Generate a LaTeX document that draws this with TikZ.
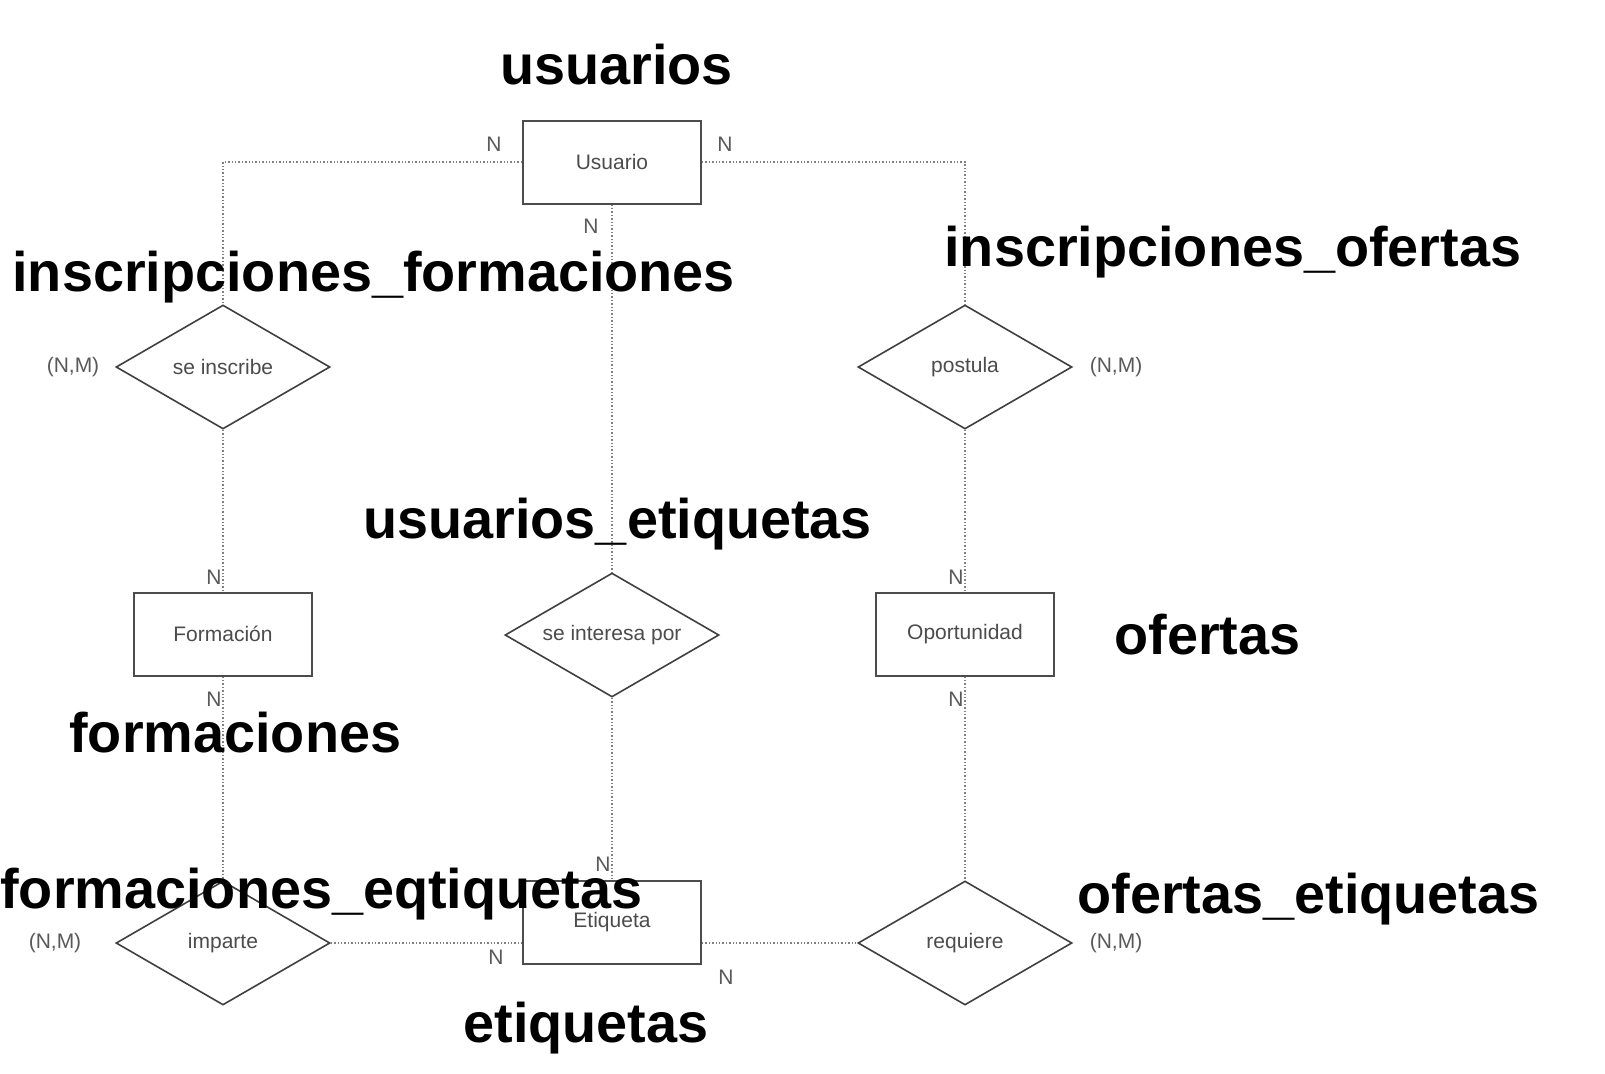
\documentclass[tikz,border=0pt]{standalone}
\usepackage{fontspec}
\setmainfont{Liberation Sans}
\usetikzlibrary{shapes.geometric}

\begin{document}
\begin{tikzpicture}[x=0.5pt,y=-0.5pt,
    entidad/.style={draw=black!70, line width=1pt, minimum width=89pt,
        minimum height=41.5pt, inner sep=0pt, text=black!70,
        font=\fontsize{10.5}{12}\selectfont},
    relacion/.style={diamond, shape aspect=1.73, draw=black!75, line width=0.8pt,
        minimum width=107pt, minimum height=62pt, inner sep=0pt,
        text=black!70, font=\fontsize{10.5}{12}\selectfont},
    card/.style={inner sep=0pt, text=black!65,
        font=\fontsize{10.5}{12}\selectfont},
    tabla/.style={anchor=base west, inner sep=0pt,
        font=\bfseries\fontsize{27.9}{30}\selectfont},
    enlace/.style={draw=black!50, densely dotted, line width=0.7pt}]

    \path[use as bounding box, fill=white] (0,0) rectangle (1605,1073);

    % entidades y relaciones
    \node[entidad] (usuario) at (612,162) {Usuario};
    \node[relacion] (inscribe) at (223,367) {se inscribe};
    \node[relacion] (postula) at (965,367) {postula};
    \node[entidad] (formacion) at (223,634) {Formación};
    \node[relacion] (interesa) at (612,635) {se interesa por};
    \node[entidad] (oportunidad) at (965,634) {Oportunidad};
    \node[relacion] (imparte) at (223,943) {imparte};
    \node[entidad] (etiqueta) at (612,922) {Etiqueta};
    \node[relacion] (requiere) at (965,943) {requiere};

    \draw[enlace] (usuario.west) -| (inscribe.north);
    \draw[enlace] (usuario.east) -| (postula.north);
    \draw[enlace] (usuario.south) -- (interesa.north);
    \draw[enlace] (inscribe.south) -- (formacion.north);
    \draw[enlace] (postula.south) -- (oportunidad.north);
    \draw[enlace] (formacion.south) -- (imparte.north);
    \draw[enlace] (oportunidad.south) -- (requiere.north);
    \draw[enlace] (interesa.south) -- (etiqueta.north);
    \draw[enlace] (imparte.east) -- (imparte.east -| etiqueta.west);
    \draw[enlace] (etiqueta.east |- requiere.west) -- (requiere.west);

    % cardinalidades
    \node[card] (n1) at (494,144) {N};
    \node[card] (n2) at (725,144) {N};
    \node[card] (n3) at (591,226) {N};
    \node[card] (n4) at (214,577) {N};
    \node[card] (n5) at (214,699) {N};
    \node[card] (n6) at (956,577) {N};
    \node[card] (n7) at (956,699) {N};
    \node[card] (n8) at (603,864) {N};
    \node[card] (n9) at (496,957) {N};
    \node[card] (n10) at (726,977) {N};
    \node[card] (nm1) at (73,367) {(N,M)};
    \node[card] (nm2) at (1116,367) {(N,M)};
    \node[card] (nm3) at (55,943) {(N,M)};
    \node[card] (nm4) at (1116,943) {(N,M)};

    % tablas
    \node[tabla] (tusuarios) at (500,84) {usuarios};
    \node[tabla] (tinsform) at (12,291) {inscripciones\_formaciones};
    \node[tabla] (tinsof) at (944,266) {inscripciones\_ofertas};
    \node[tabla] (tusuet) at (363,538) {usuarios\_etiquetas};
    \node[tabla] (tofertas) at (1114,654) {ofertas};
    \node[tabla] (tformaciones) at (69,752) {formaciones};
    \node[tabla] (tformet) at (0,908) {formaciones\_eqtiquetas};
    \node[tabla] (tofet) at (1077,913) {ofertas\_etiquetas};
    \node[tabla] (tetiquetas) at (463,1042) {etiquetas};

\end{tikzpicture}
\end{document}
